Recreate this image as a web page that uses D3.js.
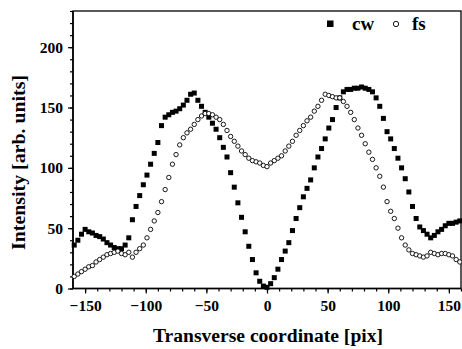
<!DOCTYPE html>
<html>
<head>
<meta charset="utf-8">
<script src="https://cdn.jsdelivr.net/npm/d3@7"></script>
<style>
  html, body { margin: 0; padding: 0; background: #fff; }
  svg text { font-family: "Liberation Serif", serif; font-weight: bold; fill: #000; }
</style>
</head>
<body>
<svg id="chart" width="462" height="349"></svg>
<script>
// x positions of the samples (pixel coordinate), step 3
const xStart = -159;
const xStep = 3;

// cw: filled squares
const cwValues = [
  36, 40, 45, 49, 47, 46, 44, 43, 41, 38, 36, 34, 33, 33, 36, 42, 57, 68, 77, 86,
  94, 103, 112, 121, 135, 142, 144, 146, 147, 149, 152, 156, 161, 162, 156, 151, 146, 142, 137, 132,
  125, 117, 109, 96, 84, 71, 59, 47, 35, 24, 13, 6, 2, 1, 4, 9, 16, 24, 31, 38,
  48, 58, 67, 76, 83, 90, 100, 109, 116, 124, 133, 140, 150, 158, 163, 165, 165, 166, 166, 167,
  166, 165, 163, 158, 151, 141, 130, 124, 116, 108, 100, 91, 80, 68, 58, 51, 48, 45, 42, 44,
  47, 49, 52, 54, 54, 55, 56
];

// fs: open circles
const fsValues = [
  10, 12, 14, 16, 18, 19, 22, 24, 26, 28, 29, 30, 31, 29, 28, 30, 26, 30, 33, 36,
  42, 49, 56, 63, 72, 82, 92, 103, 111, 119, 125, 129, 132, 136, 140, 143, 145, 145, 144, 142,
  140, 136, 131, 126, 122, 118, 114, 111, 108, 106, 105, 104, 102, 101, 104, 106, 108, 110, 114, 118,
  122, 127, 131, 135, 139, 142, 147, 151, 156, 161, 160, 159, 158, 158, 155, 151, 146, 140, 133, 127,
  120, 113, 107, 100, 93, 84, 72, 64, 58, 50, 42, 36, 32, 29, 28, 27, 26, 27, 30, 29,
  28, 29, 29, 28, 27, 24, 22
];

const xTicks = [-150, -100, -50, 0, 50, 100, 150];
const yTicks = [0, 50, 100, 150, 200];
const seriesNames = ['cw', 'fs'];

const cw = cwValues.map((v, i) => ({ x: xStart + i * xStep, y: v }));
const fs = fsValues.map((v, i) => ({ x: xStart + i * xStep, y: v }));

const svg = d3.select('#chart');
const m = { left: 73, right: 461, top: 11, bottom: 288.5 };

const x = d3.scaleLinear().domain([-160, 160]).range([m.left, m.right]);
const y = d3.scaleLinear().domain([0, 230]).range([m.bottom, m.top]);

const serif = (sel, size) => sel
  .style('font-family', '"Liberation Serif", serif')
  .style('font-weight', 'bold')
  .style('font-size', size + 'px');

// frame
svg.append('rect')
  .attr('x', m.left).attr('y', m.top)
  .attr('width', m.right - m.left).attr('height', m.bottom - m.top)
  .attr('fill', 'none').attr('stroke', '#000').attr('stroke-width', 1.3);

// x axis: minor + major ticks
const xAxis = svg.append('g').attr('transform', `translate(0,${m.bottom})`);
xAxis.append('g')
  .call(d3.axisBottom(x).tickValues(d3.range(-150, 161, 10)).tickSize(3).tickFormat(''))
  .call(g => g.select('.domain').remove());
xAxis.append('g')
  .call(d3.axisBottom(x).tickValues(xTicks).tickSize(5).tickPadding(6).tickFormat(d3.format('d')))
  .call(g => g.select('.domain').remove())
  .selectAll('text').call(serif, 15.5);
xAxis.selectAll('line').attr('stroke', '#000').attr('stroke-width', 1.2);

const yAxis = svg.append('g').attr('transform', `translate(${m.left},0)`);
yAxis.append('g')
  .call(d3.axisLeft(y).tickValues(d3.range(0, 231, 10)).tickSize(3).tickFormat(''))
  .call(g => g.select('.domain').remove());
yAxis.append('g')
  .call(d3.axisLeft(y).tickValues(yTicks).tickSize(5).tickPadding(5).tickFormat(d3.format('d')))
  .call(g => g.select('.domain').remove())
  .selectAll('text').call(serif, 15.5);
yAxis.selectAll('line').attr('stroke', '#000').attr('stroke-width', 1.2);

// axis lines thicker
svg.append('line').attr('x1', m.left).attr('x2', m.right).attr('y1', m.bottom).attr('y2', m.bottom)
  .attr('stroke', '#000').attr('stroke-width', 1.6);
svg.append('line').attr('x1', m.left).attr('x2', m.left).attr('y1', m.top).attr('y2', m.bottom)
  .attr('stroke', '#000').attr('stroke-width', 1.6);

// titles
svg.append('text')
  .attr('x', 153).attr('y', 342)
  .call(serif, 18)
  .attr('textLength', 230).attr('lengthAdjust', 'spacingAndGlyphs')
  .text('Transverse coordinate [pix]');

svg.append('text')
  .attr('transform', 'translate(24.5,250) rotate(-90)')
  .call(serif, 18)
  .attr('textLength', 175).attr('lengthAdjust', 'spacingAndGlyphs')
  .text('Intensity [arb. units]');

// series
const sq = 5;
svg.append('g').selectAll('rect')
  .data(cw).join('rect')
  .attr('x', d => x(d.x) - sq / 2).attr('y', d => y(d.y) - sq / 2)
  .attr('width', sq).attr('height', sq)
  .attr('fill', '#000');

svg.append('g').selectAll('circle')
  .data(fs).join('circle')
  .attr('cx', d => x(d.x)).attr('cy', d => y(d.y))
  .attr('r', 2.2)
  .attr('fill', '#fff').attr('stroke', '#000').attr('stroke-width', 0.9);

// legend
const legend = svg.append('g');
legend.append('rect').attr('x', 327).attr('y', 20.5).attr('width', 6.5).attr('height', 6.5).attr('fill', '#000');
legend.append('text').attr('x', 352).attr('y', 29.5).call(serif, 19).text(seriesNames[0]);
legend.append('circle').attr('cx', 396).attr('cy', 24).attr('r', 2.7)
  .attr('fill', '#fff').attr('stroke', '#000').attr('stroke-width', 0.9);
legend.append('text').attr('x', 412).attr('y', 29.5).call(serif, 19).text(seriesNames[1]);
</script>
</body>
</html>
